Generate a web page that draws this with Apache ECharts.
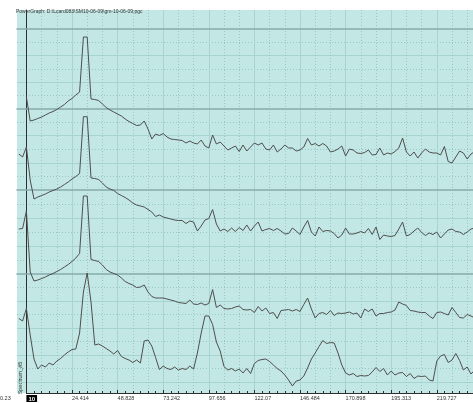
<!DOCTYPE html>
<html>
<head>
<meta charset="utf-8">
<script src="https://cdn.jsdelivr.net/npm/echarts@6/dist/echarts.min.js"></script>
<style>
html, body { margin: 0; padding: 0; background: #fff; }
#chart { width: 473px; height: 403px; }
</style>
</head>
<body>
<div id="chart"></div>
<script>
// spectrum bins: 24.414 Hz / 12 per bin, first bin is -2
var binHz = 24.414 / 12;
var firstBin = -2;
var tickStep = 24.414;
var tickLabels = ['10', '24.414', '48.828', '73.242', '97.656', '122.07', '146.484', '170.898', '195.313', '219.727'];

var chanA = [null, null,
    11.5, -12.5, -11.5, -10, -8.5, -6.5, -4.5, -3, -1, 1.5,
    4, 7.5, 10, 13.5, 16.5, 71.5, 71.5, 9.5, 9, 8,
    4.5, 1, -1.5, -3.5, -5.5, -7.5, -10.5, -13, -15, -17,
    -16.5, -12.5, -20.5, -30.5, -25.5, -27, -25, -28.5, -30.5, -31,
    -31.5, -32, -34.5, -32.5, -34.5, -35.5, -31.5, -37.5, -39.5, -26.5,
    -35.5, -33.5, -37.5, -41.5, -39.5, -37.5, -43, -36.5, -42.5, -38.5,
    -34.5, -36.5, -34.5, -40.5, -41.5, -36.5, -43.5, -40.5, -36.5, -39.5,
    -39.5, -42.5, -41.5, -38.5, -30, -36.5, -35, -37.5, -35, -37.5,
    -43.5, -42.5, -40.5, -37.5, -47.5, -40.5, -41.5, -44.5, -45, -44,
    -41.5, -46.5, -46, -39.5, -46.5, -44.5, -45.5, -43, -39.5, -29.5,
    -43.5, -47.5, -43.5, -49.5, -44.5, -40.5, -43.5, -44.5, -44.5, -46.5,
    -38, -53, -54.5, -48.5, -42.5, -44.5, -50.5, -45.5, -43];

var chanB = [36, 33,
    43, 10, -9, -7, -5.5, -4, -2, -0.5, 1, 3,
    5.5, 8, 11, 13.5, 16.5, 73.3, 73.3, 12, 11.5, 10.5,
    7, 3, 1, -0.5, -3.5, -5.5, -7.5, -10, -13, -15,
    -16, -17, -19.5, -22, -26.5, -25, -27, -28, -29, -30,
    -30.5, -30.5, -33.5, -31, -32, -41, -36, -30, -28.5, -19.5,
    -34, -41, -39, -41.5, -38, -41.5, -37.5, -40.5, -35, -41,
    -36, -32, -41, -39.5, -38.5, -40.5, -38.5, -41, -44, -43.5,
    -38, -41, -44.5, -37, -30.5, -42, -46, -37, -41.5, -40.5,
    -41, -43.5, -48, -45, -38, -44, -44, -43, -41.5, -43,
    -38.5, -44.5, -37, -49.5, -45, -46, -46.5, -45.5, -39, -32,
    -46, -44.5, -41, -38, -42.5, -45.5, -43, -44.5, -42, -48,
    -44, -40, -39, -41.5, -42, -44.5, -42, -39, -38];

var chanC = [45, 45.5,
    63, 2, -7, -6, -4.5, -3, -1, 0.5, 2.5, 4.5,
    7, 9.5, 12.5, 16, 20.5, 78, 78, 14.5, 13.5, 12.5,
    9, 4.5, 2, 0.5, -1, -4, -7.5, -9.5, -11, -13.5,
    -13, -11, -18, -22.5, -24, -24, -24, -25, -26, -27,
    -28.5, -29, -29.5, -26, -30, -30.5, -29, -31, -29.5, -15.5,
    -33.5, -31, -34.5, -35, -34.5, -33, -32, -35.5, -36, -35.5,
    -38.5, -32.5, -37, -34, -39.5, -38.5, -44.5, -36.5, -36, -35.5,
    -37, -35.5, -37.5, -30.5, -24, -35, -44, -39.5, -38.5, -40.5,
    -36.5, -41.5, -39, -39.5, -39, -38, -40, -39, -44, -35,
    -37.5, -35, -42, -39.5, -39.5, -38.5, -38, -36, -28, -30,
    -31.5, -36.5, -37, -38, -38.5, -38.5, -42, -44.5, -38.5, -38,
    -39.5, -41, -33.5, -38.5, -43.5, -44, -40.5, -42, -44];

var chanD = [63.5, 61,
    73.5, 47, 23, 13, 17, 15, 19, 17, 21, 23.5,
    27, 30, 32.5, 33, 49, 90, 109, 80, 37, 38,
    36, 33.5, 31, 28, 31.5, 25.5, 23.5, 22, 19.5, 22,
    19, 41, 42, 36, 24.5, 12.5, 16, 13.5, 12.5, 15,
    12, 13.5, 12.5, 16, 13, 29, 49, 66, 66, 57.5,
    40, 31, 15.5, 12, 13.5, 11, 13, 9, 13.5, 8.5,
    18.5, 21.5, 22.5, 23, 20.5, 17, 13.5, 11, 7, 2,
    -4, 1, 2, 6, 14, 23, 29, 35.5, 41.5, 38.5,
    39.5, 39, 29, 17, 9, 7, 8.5, 5.5, 6.5, 6,
    6.5, 10, 14.5, 10.5, 13.5, 7, 11, 7, 9, 9.5,
    5.5, 8.5, 3.5, 6, 5.5, 6, 2, 1, 21, 26,
    27.5, 19.5, 22, 28.5, 21.5, 12, 15, 8, 12];

var channels = [chanA, chanB, chanC, chanD];

// layout
var plotLeft = 17, zeroX = 26.4, plotRight = 473;
var pxPerHz = 45.6 / tickStep;
var fMin = -(zeroX - plotLeft) / pxPerHz;
var fMax = (plotRight - zeroX) / pxPerHz;
var bandTops = [29, 108.5, 190, 274];
var bandHeights = [79.5, 81.5, 84, 108];
var bandDivs = [3, 3, 3, 4];

var gridSolid = '#a7d3d1';
var gridDot = '#98c8c6';
var darkLine = '#2e2e2e';
var traceColor = '#4e4e4e';
var font = 'Liberation Sans';

function toPairs(vals) {
    var out = [];
    for (var i = 0; i < vals.length; i++) {
        out.push([(i + firstBin) * binHz, vals[i]]);
    }
    return out;
}

var chart = echarts.init(document.getElementById('chart'));

var grids = [
    {left: plotLeft, right: 0, top: 10, bottom: 10, show: true, backgroundColor: '#c3e7e5', borderWidth: 0},
    {left: zeroX, right: 0, top: 10, bottom: 10}
];
var xAxes = [
    {gridIndex: 0, type: 'value', min: 0, max: 1, show: false},
    {
        gridIndex: 1, type: 'value', position: 'bottom', min: 0, max: fMax, interval: tickStep,
        axisLine: {onZero: false, lineStyle: {color: darkLine, width: 1}},
        axisTick: {inside: true, length: 3, lineStyle: {color: darkLine}},
        minorTick: {show: true, splitNumber: 6, length: 2, lineStyle: {color: darkLine}},
        splitLine: {show: false},
        axisLabel: {
            fontSize: 5.5, fontFamily: font, color: '#333', align: 'left', margin: 2,
            showMaxLabel: false,
            formatter: function (v) {
                var i = Math.round(v / tickStep);
                if (Math.abs(v - i * tickStep) > 0.01) return '';
                if (i === 0) return '{box|' + tickLabels[0] + '}';
                return tickLabels[i] || '';
            },
            rich: {box: {backgroundColor: '#000', color: '#fff', fontWeight: 'bold', fontSize: 6, fontFamily: font, padding: [1, 2, 0, 2]}}
        }
    },
    {
        gridIndex: 1, type: 'value', position: 'top', min: 0, max: fMax, interval: tickStep,
        axisLine: {show: false}, axisTick: {show: false}, axisLabel: {show: false},
        splitLine: {show: true, lineStyle: {color: gridSolid, width: 1}},
        minorTick: {show: false, splitNumber: 3},
        minorSplitLine: {show: true, lineStyle: {color: gridDot, width: 1, type: [1, 2]}}
    }
];
var yAxes = [
    {gridIndex: 0, type: 'value', min: 0, max: 1, show: false},
    {
        gridIndex: 1, type: 'value', min: 0, max: 1,
        axisLine: {show: true, onZero: false, lineStyle: {color: darkLine}},
        axisTick: {show: false}, axisLabel: {show: false}, splitLine: {show: false}
    }
];
var series = [];

for (var b = 0; b < 4; b++) {
    grids.push({left: plotLeft, right: 0, top: bandTops[b], height: bandHeights[b]});
    xAxes.push({
        gridIndex: 2 + b, type: 'value', position: 'top', min: fMin, max: fMax,
        axisLine: {show: true, onZero: false, lineStyle: {color: '#86acab', width: 1.5}},
        axisTick: {show: false}, axisLabel: {show: false}, splitLine: {show: false}
    });
    yAxes.push({
        gridIndex: 2 + b, type: 'value', min: 0, max: bandHeights[b],
        interval: bandHeights[b] / bandDivs[b],
        axisLine: {show: false}, axisTick: {show: false}, axisLabel: {show: false},
        splitLine: {show: true, showMinLine: b === 3, showMaxLine: false, lineStyle: {color: gridSolid, width: 1}},
        minorTick: {show: false, splitNumber: 2},
        minorSplitLine: {show: true, lineStyle: {color: gridDot, width: 1, type: [1, 2]}}
    });
    series.push({
        type: 'line',
        xAxisIndex: 3 + b,
        yAxisIndex: 2 + b,
        data: toPairs(channels[b]),
        showSymbol: false,
        clip: false,
        silent: true,
        lineStyle: {color: traceColor, width: 1},
        animation: false
    });
}

var option = {
    animation: false,
    title: {
        text: 'PowerGraph: D:\\Lcard083\\SM10-06-09\\gm-10-06-09.pgc',
        left: 16, top: 9, padding: 0,
        textStyle: {fontSize: 5, fontWeight: 'normal', color: '#333', fontFamily: font}
    },
    grid: grids,
    xAxis: xAxes,
    yAxis: yAxes,
    series: series,
    graphic: [
        {type: 'text', left: 0, top: 395, style: {text: '0.23', fontSize: 5.5, fill: '#333', fontFamily: font}},
        {type: 'text', x: 20, y: 378, rotation: Math.PI / 2,
            style: {text: 'Spectrum_#5', fontSize: 5.5, fill: '#333', fontFamily: font, align: 'center', verticalAlign: 'middle'}}
    ]
};
chart.setOption(option);
</script>
</body>
</html>
